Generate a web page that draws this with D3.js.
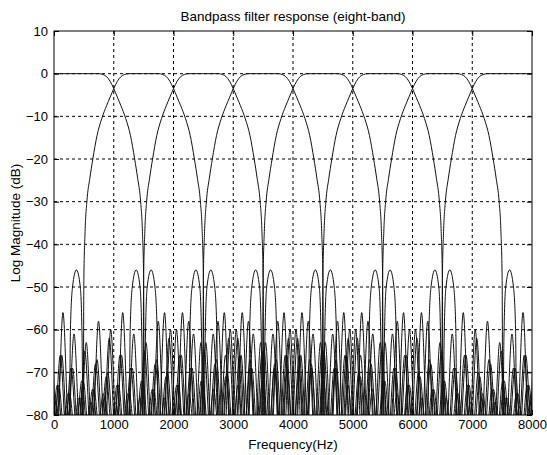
<!DOCTYPE html>
<html>
<head>
<meta charset="utf-8">
<title>Bandpass filter response (eight-band)</title>
<script src="https://cdn.jsdelivr.net/npm/d3@7/dist/d3.min.js"></script>
<style>
  body { margin: 0; background: #fff; }
  svg { display: block; }
  text { font-family: "Liberation Sans", Arial, sans-serif; fill: #000; }
  .grid line { stroke: #000; stroke-width: 1; stroke-dasharray: 3,3; }
  .curve { fill: none; stroke: #111; stroke-width: 1; }
</style>
</head>
<body>
<svg id="chart" width="547" height="455"></svg>
<script>
// band edges (Hz) of the eight filters
var bandEdges = [0, 1000, 2000, 3000, 4000, 5000, 6000, 7000, 8000];

// one side of a filter: offset from band edge (Hz, + = outside) and level (dB)
var skirtHz = [-500, -250, -180, -120, -60, 0, 60, 120, 200, 280, 350, 400, 450, 480, 500, 512, 530, 560, 625, 690, 725, 745];
var skirtDb = [0, 0, -0.2, -0.7, -1.8, -3.5, -5.5, -7.5, -10.5, -14.5, -20, -24.5, -30, -37, -48, -86, -62, -50, -46, -50, -60, -86];

// further sidelobes: peak position, peak level, null after it
var lobePeakHz = [850, 1050, 1255, 1460, 1665, 1870, 2075, 2280, 2485, 2690, 2895, 3100, 3305, 3510, 3715, 3920,
                  4125, 4330, 4535, 4740, 4945, 5150, 5355, 5560, 5765, 5970, 6175, 6380, 6585, 6790, 6995];
var lobePeakDb = [-56, -60, -58, -63, -61, -66, -62, -67, -65, -69, -66, -70, -68, -72, -69, -73,
                  -71, -74, -72, -75, -73, -76, -74, -76, -75, -77, -75, -77, -76, -78, -76];
var lobeNullHz = [950, 1150, 1360, 1560, 1770, 1970, 2180, 2380, 2590, 2790, 3000, 3200, 3410, 3610, 3820, 4020,
                  4230, 4430, 4640, 4840, 5050, 5250, 5460, 5660, 5870, 6070, 6280, 6480, 6690, 6890, 7100];
var nullDb = -86;

var xTicks = [0, 1000, 2000, 3000, 4000, 5000, 6000, 7000, 8000];
var yTicks = [10, 0, -10, -20, -30, -40, -50, -60, -70, -80];

var margin = {top: 31, right: 15, bottom: 40, left: 54};
var svg = d3.select("#chart"),
    W = +svg.attr("width"),
    H = +svg.attr("height"),
    width = W - margin.left - margin.right,
    height = H - margin.top - margin.bottom;

var x = d3.scaleLinear().domain([0, 8000]).range([0, width]);
var y = d3.scaleLinear().domain([-80, 10]).range([height, 0]);

var g = svg.append("g").attr("transform", "translate(" + margin.left + "," + margin.top + ")");

svg.append("defs").append("clipPath").attr("id", "plotclip")
  .append("rect").attr("width", width).attr("height", height);

// grid
var grid = g.append("g").attr("class", "grid");
grid.selectAll(".vx").data(xTicks.slice(1, -1)).enter().append("line")
  .attr("x1", function(d) { return x(d); }).attr("x2", function(d) { return x(d); })
  .attr("y1", 0).attr("y2", height);
grid.selectAll(".hy").data(yTicks.slice(1, -1)).enter().append("line")
  .attr("y1", function(d) { return y(d); }).attr("y2", function(d) { return y(d); })
  .attr("x1", 0).attr("x2", width);

// response of one side
function sideProfile() {
  var pts = skirtHz.map(function(d, i) { return [d, skirtDb[i]]; });
  for (var i = 0; i < lobePeakHz.length; i++) {
    pts.push([lobePeakHz[i], lobePeakDb[i]]);
    pts.push([lobeNullHz[i], nullDb]);
  }
  return pts;
}

var side = sideProfile();
var bands = [];
for (var b = 0; b < bandEdges.length - 1; b++) {
  var lo = bandEdges[b], hi = bandEdges[b + 1], pts = [];
  if (lo > 0) {
    for (var i = side.length - 1; i >= 0; i--) pts.push([lo - side[i][0], side[i][1]]);
  } else {
    pts.push([lo, 0]);
  }
  if (hi < 8000) {
    for (var j = (lo > 0 ? 1 : 0); j < side.length; j++) pts.push([hi + side[j][0], side[j][1]]);
  } else {
    pts.push([hi, 0]);
  }
  bands.push(pts);
}

var line = d3.line()
  .x(function(d) { return x(d[0]); })
  .y(function(d) { return y(d[1]); })
  .curve(d3.curveMonotoneX);

g.append("g").attr("clip-path", "url(#plotclip)")
  .selectAll("path").data(bands).enter().append("path")
  .attr("class", "curve")
  .attr("d", line);

// axes, ticks inside like matlab
function styleAxis(sel) {
  sel.select(".domain").remove();
  sel.selectAll(".tick line").attr("stroke", "#000");
  sel.selectAll("text").style("font-size", "13px");
}
g.append("g").attr("transform", "translate(0," + height + ")")
  .call(d3.axisBottom(x).tickValues(xTicks).tickSizeInner(-5).tickSizeOuter(0).tickPadding(5).tickFormat(d3.format("d")))
  .call(styleAxis);
g.append("g")
  .call(d3.axisTop(x).tickValues(xTicks).tickSizeInner(-5).tickSizeOuter(0).tickFormat(""))
  .call(styleAxis);
g.append("g")
  .call(d3.axisLeft(y).tickValues(yTicks).tickSizeInner(-5).tickSizeOuter(0).tickPadding(6).tickFormat(d3.format("d")))
  .call(styleAxis);
g.append("g").attr("transform", "translate(" + width + ",0)")
  .call(d3.axisRight(y).tickValues(yTicks).tickSizeInner(-5).tickSizeOuter(0).tickFormat(""))
  .call(styleAxis);

g.append("rect").attr("width", width).attr("height", height)
  .attr("fill", "none").attr("stroke", "#000").attr("stroke-width", 1);

// labels
svg.append("text").attr("x", margin.left + width / 2).attr("y", 21)
  .attr("text-anchor", "middle").style("font-size", "13.5px")
  .text("Bandpass filter response (eight-band)");
svg.append("text").attr("x", margin.left + width / 2).attr("y", 449)
  .attr("text-anchor", "middle").style("font-size", "13.5px")
  .text("Frequency(Hz)");
svg.append("text").attr("transform", "translate(20," + (margin.top + height / 2) + ") rotate(-90)")
  .attr("text-anchor", "middle").style("font-size", "13.5px")
  .text("Log Magnitude (dB)");
</script>
</body>
</html>
